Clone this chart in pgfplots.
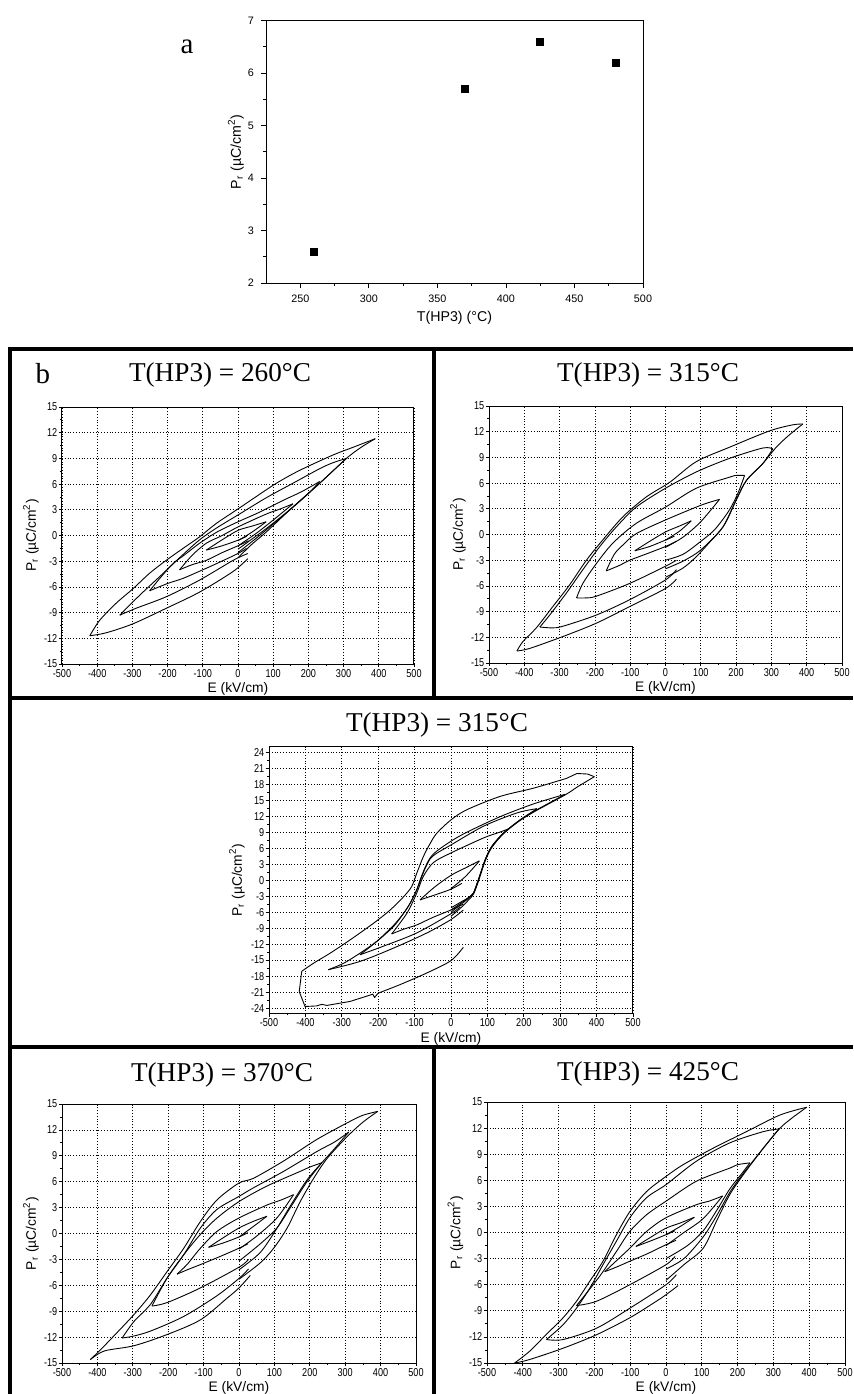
\documentclass[border=0pt]{standalone}
\usepackage{fontspec}
\setmainfont{Liberation Sans}
\newfontfamily\serif{Liberation Serif}
\newfontfamily\narrow[FakeStretch=0.8]{Liberation Sans}
\usepackage{pgfplots}
\pgfplotsset{compat=1.18}
\pgfplotsset{
 hyst/.style={
  scale only axis, anchor=south west,
  xmin=-500,xmax=500, ymin=-15,ymax=15,
  xtick={-500,-400,...,500}, ytick={-15,-12,...,15},
  minor x tick num=1, minor y tick num=1,
  tick pos=left, tick align=outside,
  major tick length=1.6pt, minor tick length=1pt,
  grid=major, major grid style={densely dotted, black, line width=0.4pt},
  axis line style={line width=0.5pt},
  every tick/.style={black, line width=0.4pt},
  ticklabel style={font=\narrow\fontsize{5.7}{6}\selectfont},
  yticklabel style={inner sep=0.6pt},
  xticklabel style={inner sep=1pt},
  label style={font=\fontsize{6.9}{8}\selectfont},
  xlabel={E (kV/cm)},
  ylabel={P\textsubscript{r} (µC/cm\textsuperscript{2})},
  xlabel style={at={(axis description cs:0.5,-0.097)}, anchor=center},
  ylabel style={at={(axis description cs:-0.088,0.5)}, anchor=center},
  /pgf/number format/assume math mode=true,
 },
 lp/.style={black, line width=0.45pt, mark=none},
 sm/.style={black, line width=0.45pt, mark=none, smooth, tension=0.5},
}
\begin{document}
\begin{tikzpicture}
\useasboundingbox (0,0) rectangle (426.5pt,-697pt);
% frames of panel b
\draw[line width=1.6pt] (5pt,-697pt) -- (5pt,-174.5pt) -- (426.5pt,-174.5pt);
\draw[line width=1.6pt] (5pt,-349pt) -- (426.5pt,-349pt);
\draw[line width=1.6pt] (5pt,-523.5pt) -- (426.5pt,-523.5pt);
\draw[line width=1.6pt] (217pt,-174.5pt) -- (217pt,-349pt);
\draw[line width=1.6pt] (217pt,-523.5pt) -- (217pt,-697pt);
% labels a, b
\node[anchor=base, font=\serif\fontsize{14.5}{16}\selectfont] at (93.5pt,-26.5pt) {a};
\node[anchor=base, font=\serif\fontsize{14.5}{16}\selectfont] at (21.5pt,-191.5pt) {b};
% titles
\node[anchor=base, font=\serif\fontsize{13.6}{16}\selectfont] at (110pt,-190.75pt) {T(HP3) = 260°C};
\node[anchor=base, font=\serif\fontsize{13.6}{16}\selectfont] at (324pt,-190.75pt) {T(HP3) = 315°C};
\node[anchor=base, font=\serif\fontsize{13.6}{16}\selectfont] at (218.5pt,-365.8pt) {T(HP3) = 315°C};
\node[anchor=base, font=\serif\fontsize{13.6}{16}\selectfont] at (111pt,-540.8pt) {T(HP3) = 370°C};
\node[anchor=base, font=\serif\fontsize{13.6}{16}\selectfont] at (324pt,-540pt) {T(HP3) = 425°C};

% ---------- panel a ----------
\begin{axis}[scale only axis, anchor=south west, at={(133pt,-141.5pt)},
 width=188.5pt, height=131.2pt,
 xmin=225, xmax=500, ymin=2, ymax=7,
 xtick={250,300,...,500}, ytick={2,3,...,7},
 minor x tick num=1, minor y tick num=1,
 tick pos=left, tick align=outside,
 major tick length=2.5pt, minor tick length=1.5pt,
 axis line style={line width=0.5pt},
 every tick/.style={black, line width=0.4pt},
 ticklabel style={font=\fontsize{5.4}{6}\selectfont},
 label style={font=\fontsize{7.1}{8}\selectfont},
 xlabel={T(HP3) (°C)},
 ylabel={P\textsubscript{r} (µC/cm\textsuperscript{2})},
 xlabel style={at={(axis description cs:0.5,-0.133)}, anchor=center},
 ylabel style={at={(axis description cs:-0.08,0.5)}, anchor=center},
 /pgf/number format/assume math mode=true,
]
\addplot[only marks, mark=square*, mark size=1.7pt, black] coordinates {(260,2.6) (370,5.7) (425,6.6) (480,6.2)};
\end{axis}

% ---------- R1 left: 260 C ----------
\begin{axis}[hyst, at={(31pt,-332pt)}, width=176pt, height=128.5pt]
\addplot[sm] coordinates {(0,-0.6) (40,0.4) (80,1.6)};
\addplot[sm] coordinates {(80,1.6) (40,1.1) (0,0.6) (-45,-0.5) (-90,-1.7)};
\addplot[sm] coordinates {(-90,-1.7) (-45,-1.2) (0,-0.55) (25,-0.1)};
\addplot[sm] coordinates {(0,-1.2) (50,0.2) (100,1.8) (156,3.7)};
\addplot[sm] coordinates {(156,3.7) (120,3.1) (80,2.5) (0,1.0) (-45,0.0) (-90,-0.9) (-130,-2.3) (-166,-4.0)};
\addplot[sm] coordinates {(-166,-4.0) (-130,-3.4) (-90,-2.9) (-45,-2.0) (0,-1.2) (30,-0.6)};
\addplot[sm] coordinates {(0,-1.6) (40,-0.4) (80,0.8) (150,3.1) (200,4.9) (232,6.3)};
\addplot[sm] coordinates {(232,6.3) (180,5.1) (128,4.1) (60,2.7) (0,1.6) (-60,0.4) (-109,-0.9) (-150,-2.2) (-185,-3.3) (-220,-4.9) (-251,-6.45)};
\addplot[sm] coordinates {(-251,-6.45) (-200,-5.6) (-156,-5.0) (-100,-4.0) (-62,-3.3) (0,-2.1) (24,-1.5)};
\addplot[sm] coordinates {(0,-2.0) (40,-0.7) (70,0.3) (150,3.1) (232,6.1) (308,9.0)};
\addplot[sm] coordinates {(308,9.0) (270,8.5) (232,7.8) (156,6.1) (80,4.4) (0,2.4) (-60,0.9) (-109,-0.5) (-166,-2.6) (-220,-4.7) (-280,-7.0) (-336,-9.3)};
\addplot[sm] coordinates {(-336,-9.3) (-290,-8.5) (-204,-7.15) (-109,-5.2) (-14,-2.9) (28,-2.1)};
\addplot[sm] coordinates {(0,-2.6) (40,-1.0) (80,0.4) (150,3.1) (232,6.1) (308,9.0) (350,10.3) (390,11.3)};
\addplot[sm] coordinates {(390,11.3) (327,10.3) (270,9.4) (175,7.6) (109,6.1) (43,4.3) (0,3.1) (-62,1.4) (-109,-0.15) (-156,-1.5) (-204,-2.9) (-251,-4.4) (-298,-6.2) (-346,-7.9) (-393,-9.9) (-421,-11.7)};
\addplot[sm] coordinates {(-421,-11.7) (-374,-11.35) (-298,-10.3) (-204,-8.5) (-109,-6.6) (-14,-4.2) (28,-2.7)};
\end{axis}

% ---------- R1 right: 315 C ----------
\begin{axis}[hyst, at={(244.5pt,-331.5pt)}, width=176.5pt, height=128.5pt]
\addplot[sm] coordinates {(0,-0.65) (40,0.4) (73,1.6)};
\addplot[sm] coordinates {(73,1.6) (40,1.0) (0,0.3) (-45,-0.8) (-87,-1.9)};
\addplot[sm] coordinates {(-87,-1.9) (-45,-1.4) (0,-0.65) (25,-0.2)};
\addplot[sm] coordinates {(0,-1.5) (50,-0.3) (100,1.5) (153,4.1)};
\addplot[sm] coordinates {(153,4.1) (120,3.7) (87,3.2) (0,1.7) (-83,0.1) (-120,-1.2) (-145,-2.3) (-168,-4.25)};
\addplot[sm] coordinates {(-168,-4.25) (-130,-3.6) (-101,-3.0) (-50,-2.2) (0,-1.4) (30,-0.8)};
\addplot[sm] coordinates {(0,-3.0) (50,-2.3) (100,-0.8) (140,0.6) (180,2.8) (205,4.8) (224,6.9)};
\addplot[sm] coordinates {(224,6.9) (200,6.9) (182,6.7) (87,5.4) (0,3.2) (-83,1.3) (-149,-1.0) (-196,-3.4) (-234,-5.7) (-252,-7.4)};
\addplot[sm] coordinates {(-252,-7.4) (-225,-7.4) (-196,-7.2) (-101,-5.7) (0,-3.7) (31,-3.0)};
\addplot[sm] coordinates {(0,-4.0) (50,-3.1) (100,-1.8) (163,0.9) (200,4.0) (229,6.3) (276,8.3) (304,10.0)};
\addplot[sm] coordinates {(304,10.0) (276,10.1) (182,8.9) (87,7.3) (0,5.4) (-83,3.2) (-139,0.9) (-186,-1.4) (-234,-4.1) (-281,-6.85) (-328,-9.4) (-356,-10.8)};
\addplot[sm] coordinates {(-356,-10.8) (-320,-10.9) (-290,-10.7) (-196,-9.4) (-101,-7.6) (0,-5.3) (31,-4.1)};
\addplot[sm] coordinates {(0,-5.0) (50,-3.9) (87,-2.6) (125,-0.9) (163,0.9) (200,4.0) (229,6.3) (276,8.3) (314,10.2) (350,11.6) (389,12.9)};
\addplot[sm] coordinates {(389,12.9) (360,12.8) (295,12.1) (182,10.2) (87,8.5) (12,6.1) (-54,4.4) (-120,2.1) (-177,-0.6) (-224,-3.0) (-272,-5.9) (-319,-8.4) (-366,-10.9) (-404,-12.5) (-421,-13.6)};
\addplot[sm] coordinates {(-421,-13.6) (-385,-13.3) (-290,-11.9) (-196,-10.35) (-101,-8.4) (0,-6.3) (31,-5.2)};
\end{axis}

% ---------- R2: 315 C ----------
\begin{axis}[hyst, at={(134.5pt,-506.7pt)}, width=182pt, height=133.3pt,
 ymin=-25, ymax=25, ytick={-24,-21,...,24},
 xlabel style={at={(axis description cs:0.5,-0.094)}, anchor=center},
 ylabel style={at={(axis description cs:-0.088,0.5)}, anchor=center}]
\addplot[sm] coordinates {(0,-1.6) (40,0.7) (78,3.6)};
\addplot[sm] coordinates {(78,3.6) (40,2.3) (0,0.9) (-45,-1.3) (-85,-3.7)};
\addplot[sm] coordinates {(-85,-3.7) (-45,-2.8) (0,-1.7) (30,-0.6)};
\addplot[sm] coordinates {(0,-5.2) (30,-4.0) (50,-3.2) (62,-2.4) (75,0.0) (94,3.8) (112,6.3) (140,8.5) (158,9.6)};
\addplot[sm] coordinates {(158,9.6) (130,8.9) (89,7.9) (0,5.1) (-48,3.3) (-76,0.7) (-94,-2.4) (-121,-6.2) (-163,-10.1)};
\addplot[sm] coordinates {(-163,-10.1) (-130,-9.2) (-94,-8.4) (-50,-7.0) (0,-5.6) (34,-4.5)};
\addplot[sm] coordinates {(0,-5.6) (30,-4.2) (50,-3.2) (62,-2.4) (75,0.0) (94,3.8) (112,6.3) (144,8.8) (190,11.3) (236,13.4)};
\addplot[sm] coordinates {(236,13.4) (181,12.6) (89,10.1) (0,6.6) (-40,5.0) (-57,4.0) (-71,2.2) (-85,-0.2) (-94,-1.8) (-112,-4.3) (-130,-6.2) (-158,-8.5) (-204,-11.5) (-250,-14.0)};
\addplot[sm] coordinates {(-250,-14.0) (-186,-12.4) (-94,-9.9) (0,-6.3) (25,-5.0)};
\addplot[sm] coordinates {(0,-6.0) (30,-4.4) (50,-3.3) (62,-2.4) (75,0.0) (94,3.8) (112,6.3) (144,8.8) (190,11.3) (236,13.2) (314,16.1)};
\addplot[sm] coordinates {(314,16.1) (227,14.3) (135,11.9) (44,9.0) (0,7.3) (-40,5.4) (-57,4.2) (-71,2.4) (-85,0.0) (-94,-1.8) (-112,-4.3) (-130,-6.2) (-158,-8.7) (-204,-11.5) (-250,-13.7) (-295,-15.6) (-337,-16.8)};
\addplot[sm] coordinates {(-337,-16.8) (-250,-15.25) (-158,-12.75) (-66,-9.9) (0,-7.4) (34,-5.6)};
\addplot[sm] coordinates {(0,-6.8) (30,-5.0) (50,-3.6) (62,-2.6) (75,-0.3) (94,3.6) (112,6.1) (144,8.7) (190,11.2) (236,13.1) (314,16.0) (350,17.6) (394,19.4)};
\addplot[lp] coordinates {(394,19.4) (375,19.9) (346,20.0) (318,19.1)};
\addplot[sm] coordinates {(318,19.1) (227,17.25) (135,15.7) (43.5,13.2) (0,11.3) (-39,8.8) (-57,6.9) (-76,4.4) (-94,1.3) (-108,-1.2) (-130,-3.1) (-167,-5.6) (-213,-8.1) (-277,-11.2) (-332,-13.7) (-378,-15.6) (-410,-17.1)};
\addplot[lp] coordinates {(-410,-17.1) (-417,-20.9) (-401,-23.7) (-370,-23.6) (-355,-23.3) (-341,-23.5) (-277,-22.75) (-215,-21.4) (-210,-22.0) (-200,-21.2)};
\addplot[sm] coordinates {(-200,-21.2) (-140,-19.6) (-66,-17.4) (0,-15.1) (34,-12.6)};
\end{axis}

% ---------- R3 left: 370 C ----------
\begin{axis}[hyst, at={(31pt,-681.5pt)}, width=177pt, height=129.5pt]
\addplot[sm] coordinates {(0,-0.4) (40,0.8) (79,2.0)};
\addplot[sm] coordinates {(79,2.0) (40,1.4) (0,0.64) (-45,-0.5) (-86,-1.6)};
\addplot[sm] coordinates {(-86,-1.6) (-45,-1.1) (0,-0.4) (25,0.1)};
\addplot[sm] coordinates {(0,-1.8) (50,-0.3) (107,1.8) (154,4.5)};
\addplot[sm] coordinates {(154,4.5) (120,3.9) (79,3.3) (0,1.8) (-62,0.25) (-109,-1.7) (-147,-3.6) (-175,-4.7)};
\addplot[sm] coordinates {(-175,-4.7) (-140,-4.1) (-109,-3.6) (-50,-2.6) (0,-1.7) (25,-1.2)};
\addplot[sm] coordinates {(0,-3.2) (60,-1.2) (107,0.64) (145,3.0) (192,6.0) (234,8.2)};
\addplot[sm] coordinates {(234,8.2) (200,7.7) (173,7.2) (79,5.5) (0,3.7) (-62,1.8) (-109,-0.1) (-156,-2.45) (-203,-5.15) (-246,-8.4)};
\addplot[sm] coordinates {(-246,-8.4) (-203,-8.0) (-109,-6.3) (0,-3.9) (27,-3.0)};
\addplot[sm] coordinates {(0,-4.2) (60,-2.2) (107,0.6) (145,3.2) (192,6.2) (234,8.2) (267,9.7) (310,11.75)};
\addplot[sm] coordinates {(310,11.75) (270,10.6) (220,9.5) (126,7.2) (41,5.3) (0,4.3) (-62,2.8) (-109,0.64) (-156,-2.45) (-203,-5.15) (-250,-8.2) (-297,-10.2) (-330,-12.1)};
\addplot[sm] coordinates {(-330,-12.1) (-300,-11.9) (-250,-11.3) (-156,-9.6) (-62,-7.2) (0,-5.2) (27,-4.1)};
\addplot[sm] coordinates {(0,-5.3) (60,-3.4) (98,-1.7) (136,0.64) (173,3.7) (211,6.4) (249,8.7) (305,11.2) (350,12.9) (392,14.15)};
\addplot[sm] coordinates {(392,14.15) (350,13.7) (314,13.0) (220,10.9) (126,8.4) (41,6.4) (0,5.85) (-62,3.9) (-109,1.4) (-156,-1.7) (-203,-4.4) (-250,-7.1) (-297,-9.4) (-345,-11.5) (-392,-13.5) (-420,-14.6)};
\addplot[sm] coordinates {(-420,-14.6) (-380,-13.6) (-297,-13.0) (-203,-11.7) (-109,-10.0) (-34,-7.5) (0,-6.3) (32,-4.85)};
\end{axis}

% ---------- R3 right: 425 C ----------
\begin{axis}[hyst, at={(243.5pt,-681.5pt)}, width=179pt, height=130.5pt]
\addplot[sm] coordinates {(0,-0.25) (40,0.7) (79,1.75)};
\addplot[sm] coordinates {(79,1.75) (40,1.1) (0,0.5) (-45,-0.6) (-84,-1.6)};
\addplot[sm] coordinates {(-84,-1.6) (-45,-1.0) (0,-0.25) (25,0.2)};
\addplot[sm] coordinates {(0,-1.5) (50,0.0) (104,1.6) (158,4.2)};
\addplot[sm] coordinates {(158,4.2) (120,3.6) (85,3.2) (0,1.7) (-54,0.13) (-101,-1.8) (-140,-3.3) (-171,-4.5)};
\addplot[sm] coordinates {(-171,-4.5) (-140,-4.0) (-101,-3.3) (-50,-2.4) (0,-1.4) (28,-0.9)};
\addplot[sm] coordinates {(0,-3.0) (60,-1.5) (104,0.2) (141,2.5) (178,5.0) (216,7.0) (234,8.0)};
\addplot[sm] coordinates {(234,8.0) (200,7.8) (178,7.4) (85,5.9) (0,3.6) (-54,2.05) (-101,0.13) (-138,-2.15) (-176,-4.5) (-213,-6.5) (-250,-8.4)};
\addplot[sm] coordinates {(-250,-8.4) (-194,-7.9) (-101,-6.0) (0,-3.7) (25,-2.75)};
\addplot[sm] coordinates {(0,-4.2) (50,-3.0) (104,-0.5) (141,1.9) (178,4.6) (216,6.8) (272,9.7) (316,11.9)};
\addplot[sm] coordinates {(316,11.9) (272,11.6) (178,10.3) (85,8.2) (0,5.5) (-54.5,4.0) (-101,1.7) (-138.5,-1.0) (-176,-3.7) (-213,-6.4) (-250,-8.7) (-287.5,-10.6) (-334,-12.3)};
\addplot[sm] coordinates {(-334,-12.3) (-287.5,-12.3) (-194,-11.0) (-101,-8.7) (0,-6.0) (29,-4.85)};
\addplot[sm] coordinates {(0,-5.5) (50,-3.7) (104,-1.8) (141,1.3) (178,4.35) (216,6.65) (272,9.7) (316,11.9) (350,13.1) (393,14.4)};
\addplot[sm] coordinates {(393,14.4) (318,13.5) (225,11.6) (132,9.7) (48,7.8) (0,6.45) (-54.5,4.7) (-101,2.4) (-138.5,-0.25) (-176,-3.3) (-213,-5.6) (-250,-7.9) (-287.5,-9.8) (-334,-11.7) (-381,-13.65) (-423,-15.0)};
\addplot[sm] coordinates {(-423,-15.0) (-381,-14.6) (-287.5,-13.3) (-194,-11.75) (-101,-9.8) (-27,-7.9) (0,-7.15) (34,-6.1)};
\end{axis}
\end{tikzpicture}
\end{document}
